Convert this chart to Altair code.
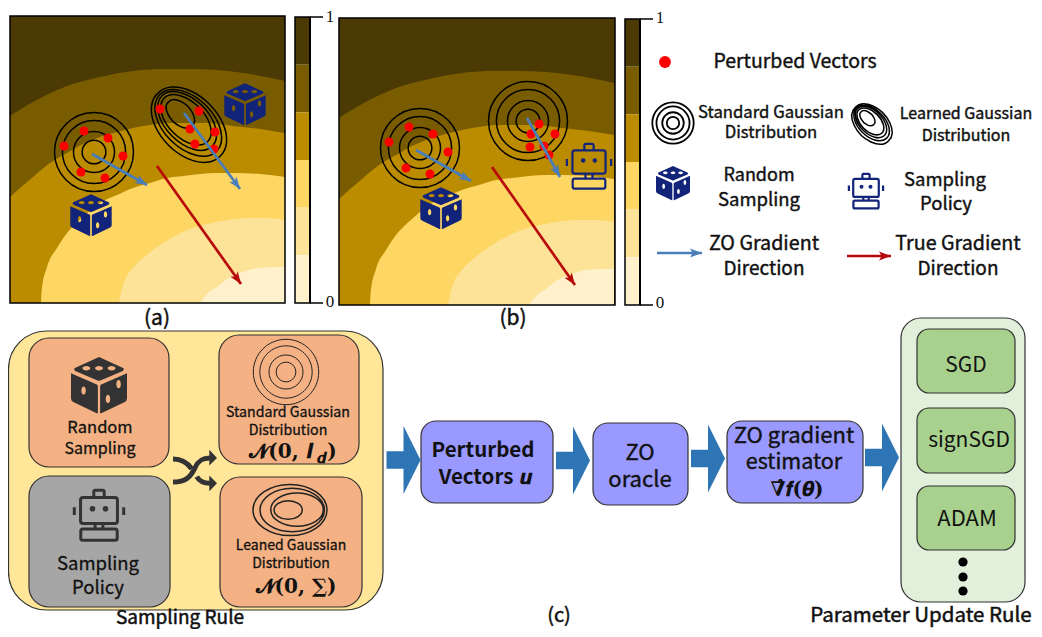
import math
import altair as alt
import pandas as pd

# ---------- palette ----------
BAND_COLORS = ["#4c3a05", "#7a5c00", "#bb8c00", "#fdd663", "#fde398", "#fff1cc"]
BLUE, RED, NAVY, INK = "#4a7ebb", "#b80a0a", "#12237a", "#333333"

# ---------- contour boundaries ----------
B1 = [(10, 116), (33, 102), (67, 86), (100, 77), (133, 71), (167, 69), (190, 69), (217, 70), (250, 74), (285, 81)]
B2 = [(10, 197), (20, 188), (33, 177), (50, 163), (67, 153), (83, 144), (100, 137), (117, 132), (133, 128), (150, 125),
      (167, 123), (187, 123), (207, 123), (233, 126), (260, 129), (285, 133)]
B3 = [(41, 303), (41.7, 290), (47, 267), (57, 248), (67, 233), (83, 217), (100, 203), (117, 195), (133, 188), (150, 183),
      (167, 178), (183, 176), (200, 174), (217, 173), (233, 173), (260, 174), (285, 177)]
B4 = [(119, 303), (121, 293), (125, 280), (133, 268), (143, 258), (157, 247), (173, 237), (190, 229), (207, 224), (227, 220),
      (247, 218), (267, 218), (285, 220)]
B5 = [(200, 303), (208, 293), (217, 287), (227, 279), (240, 273), (257, 268), (273, 267), (285, 267)]
BOUNDARIES = [B1, B2, B3, B4, B5]

PANEL_A = (10, 285, 16, 303)
PANEL_B = (339, 615, 18, 305)
OFFSET_B = (329, 2)
CBAR_A = (295, 309, 17, 303)
CBAR_B = (625, 639, 19, 305)

# ---------- points ----------
DOTS_AX = [64, 84, 108, 123, 105, 81, 160, 199, 190, 215, 195, 214]
DOTS_AY = [146, 131, 138, 156, 178, 172, 109, 111, 129, 132, 144, 149]
DOTS_BX = [389, 409, 433, 448, 430, 406, 539, 531, 555, 544, 530, 549]
DOTS_BY = [142, 127, 134, 152, 174, 168, 124, 134, 134, 146, 147, 155]
LEGEND_DOT_X = [665]
LEGEND_DOT_Y = [62]

# arrows: x0, y0, x1, y1
BLUE_ARROWS = [(92, 154, 147, 185), (184, 113, 240, 189), (416, 150, 471, 181),
               (527, 118, 560, 177), (657, 253, 702, 253)]
RED_ARROWS = [(157, 166, 241, 284), (492, 167, 575, 285), (847, 256, 891, 256)]

# block arrows
BLOCK_X = [403.5, 573, 708, 882]
BLOCK_Y = [460, 460.5, 458.5, 457.5]

# boxes: x0, x1, y0, y1, fill
BIG = [(8.5, 383, 331, 610, "#ffe699")]
GROUP = [(901, 1025, 318, 602, "#e2efda")]
ORANGE_GREY = [(29, 169, 338, 467, "#f4b183"), (29, 170, 476, 607, "#a6a6a6"),
               (219, 359, 335, 464, "#f4b183"), (220, 362, 477, 607, "#f4b183")]
PURPLE = [(421, 553, 421, 503, "#9999ff"), (593, 688, 423, 505, "#9999ff"),
          (727, 863, 421, 503, "#9999ff")]
GREEN = [(917, 1015, 329, 393, "#a9d18e"), (917, 1015, 408, 473, "#a9d18e"),
         (917, 1015, 486, 550, "#a9d18e")]
ELLIPSIS_X = [963, 963, 963]
ELLIPSIS_Y = [562, 577, 591]

# ---------- glyph shapes (unit square, -1..1) ----------
def ell(cx, cy, a, b, rot=0, sweep=1):
    rad = math.radians(rot)
    dx, dy = a * math.cos(rad), a * math.sin(rad)
    return (f"M{cx - dx:.3f},{cy - dy:.3f}"
            f"A{a:.3f},{b:.3f} {rot} 1 {sweep} {cx + dx:.3f},{cy + dy:.3f}"
            f"A{a:.3f},{b:.3f} {rot} 1 {sweep} {cx - dx:.3f},{cy - dy:.3f}Z")

def rr(x0, y0, x1, y1, r):
    return (f"M{x0 + r},{y0}L{x1 - r},{y0}Q{x1},{y0} {x1},{y0 + r}L{x1},{y1 - r}"
            f"Q{x1},{y1} {x1 - r},{y1}L{x0 + r},{y1}Q{x0},{y1} {x0},{y1 - r}"
            f"L{x0},{y0 + r}Q{x0},{y0} {x0 + r},{y0}Z")

RINGS = " ".join(ell(0, 0, r, r) for r in [1, 0.8, 0.52, 0.3])
TILTED = " ".join(ell(cx, cy, a, b, 45) for cx, cy, a, b in [
    (0, 0, 1.18, 0.75), (-0.02, -0.05, 1.07, 0.66), (-0.05, -0.10, 0.95, 0.57),
    (-0.08, -0.13, 0.82, 0.48), (-0.23, -0.29, 0.45, 0.27)])
FLAT = " ".join(ell(cx, cy, a, b) for cx, cy, a, b in [
    (0, 0, 1, 0.69), (0.06, 0, 0.87, 0.59), (0.19, -0.01, 0.71, 0.45), (-0.05, 0, 0.38, 0.25)])

DICE = ("M0,-1L.88,-.6Q.9,-.55 .85,-.5L.05,-.16Q0,-.14 -.05,-.16L-.85,-.5Q-.9,-.55 -.88,-.6Z "
        "M-1,-.42L-.08,-.02Q-.04,0 -.04,.05L-.04,1Q-.04,1.02 -.1,1L-.9,.62Q-1,.57 -1,.48Z "
        "M1,-.42L1,.48Q1,.57 .9,.62L.1,1Q.04,1.02 .04,1L.04,.05Q.04,0 .08,-.02Z "
        + " ".join(ell(x, y, a, b, 0, 0) for x, y, a, b in [
            (-.45, -.6, .14, .08), (0, -.6, .14, .08), (.45, -.6, .14, .08),
            (-.55, .2, .08, .15), (.7, -.03, .08, .15), (.32, .5, .08, .15)]))

ROBOT = " ".join([
    rr(-.71, -.67, .71, .33, .1), rr(-.2, -.95, .2, -.67, .06), rr(-.7, .54, .7, .97, .08),
    "M-.95,-.3L-.95,0", "M.95,-.3L.95,0", "M-.15,.33L-.15,.54", "M.15,.33L.15,.54",
    ell(-.25, -.24, .05, .05), ell(.25, -.24, .05, .05)])

SHUFFLE_LINES = ("M-1,-.5C-.6,-.5 -.35,-.35 -.15,-.05 M.08,.3C.2,.52 .4,.6 .68,.6 "
                 "M-1,.55C-.4,.55 -.2,.3 0,-.1C.15,-.45 .35,-.55 .68,-.55")
SHUFFLE_HEADS = "M.65,-.92L1,-.55L.65,-.2Z M.65,.25L1,.6L.65,.97Z"
BLOCK = "M-.5,-.26L0,-.26L0,-1L.5,0L0,1L0,.26L-.5,.26Z"
HEAD = "M0,-1L.75,1L0,.55L-.75,1Z"

# ---------- text ----------
SERIF_NUM = [("1", 330, 17, 17), ("0", 330, 302, 17), ("1", 660, 18, 17), ("0", 660, 303, 17)]
CAPTIONS = [("(a)", 157, 319, 21), ("(b)", 513, 319, 21), ("(c)", 559, 616, 20),
            ("Parameter Update Rule", 921, 616, 20.5)]
BOTTOM_CAPTION = [("Sampling Rule", 180, 618, 19)]
LEGEND_TEXT = [("Perturbed Vectors", 795, 62, 19.5), ("Standard Gaussian", 771, 113, 16.7),
               ("Distribution", 771, 133, 16.7), ("Learned Gaussian", 966, 114, 16),
               ("Distribution", 966, 136, 16), ("Random", 759, 176, 18), ("Sampling", 759, 200, 18.5),
               ("Sampling", 945, 180, 18.5), ("Policy", 946, 204, 18.5),
               ("ZO Gradient", 764, 244, 19.7), ("Direction", 764, 269, 19),
               ("True Gradient", 958, 244, 19.7), ("Direction", 958, 269, 19)]
BOX_TEXT = [("Random", 100, 428, 16.5), ("Sampling", 100, 449, 16),
            ("Sampling", 98, 564, 18.5), ("Policy", 98, 588, 18.5),
            ("Standard Gaussian", 288, 413, 14.2), ("Distribution", 288, 431, 14.2),
            ("Leaned Gaussian", 291, 546, 14), ("Distribution", 291, 564, 14)]
FLOW_BOLD = [("Perturbed", 483, 451, 20.5), ("Vectors", 476, 478, 20.5)]
FLOW_TEXT = [("ZO", 640, 453, 22), ("oracle", 640, 480, 22),
             ("ZO gradient", 794, 436, 22), ("estimator", 794, 463, 21.5)]
OPT_TEXT = [("SGD", 966, 366, 21), ("signSGD", 969, 441, 21), ("ADAM", 967, 519, 22)]
MATH_TEXT = [("\U0001D4DD(\U0001D7CE,", 274, 452, 20), ("\U0001D470", 310, 452, 20), (")", 332, 452, 20),
             ("\U0001D4DD(\U0001D7CE, \u2211)", 296, 587, 20),
             ("\u2207\u0302\U0001D487(\U0001D73D)", 797, 490, 20), ("\U0001D496", 526, 478, 20)]
MATH_SUB = [("\U0001D485", 321, 458, 15)]

# ---------- helpers ----------
xs = alt.Scale(domain=[8, 1034], nice=False, zero=False)
ys = alt.Scale(domain=[8, 629], nice=False, zero=False, reverse=True)
X = lambda f="x": alt.X(f"{f}:Q", scale=xs, axis=None)
Y = lambda f="y": alt.Y(f"{f}:Q", scale=ys, axis=None)

def rects(rows, radius=0, stroke="#333333", sw=1.2):
    df = pd.DataFrame(rows, columns=["x", "x2", "y", "y2", "fill"])
    return alt.Chart(df).mark_rect(cornerRadius=radius, stroke=stroke, strokeWidth=sw).encode(
        x=X(), x2="x2:Q", y=Y(), y2="y2:Q", fill=alt.Fill("fill:N", scale=None))

def outline(x0, x1, y0, y1, sw=1.5):
    df = pd.DataFrame({"x": [x0], "x2": [x1], "y": [y0], "y2": [y1]})
    return alt.Chart(df).mark_rect(fill="transparent", stroke="black", strokeWidth=sw).encode(
        x=X(), x2="x2:Q", y=Y(), y2="y2:Q")

def rules(rows, color="black", sw=1.5):
    df = pd.DataFrame(rows, columns=["x", "y", "x2", "y2"])
    return alt.Chart(df).mark_rule(color=color, strokeWidth=sw).encode(
        x=X(), y=Y(), x2="x2:Q", y2="y2:Q")

def glyph(path, px, py, radius, color, filled=True, sw=1.5):
    df = pd.DataFrame({"x": px, "y": py})
    kw = dict(fill=color) if filled else dict(fill="transparent", stroke=color, strokeWidth=sw)
    return alt.Chart(df).mark_point(shape=path, size=(2 * radius) ** 2, opacity=1, filled=filled, **kw).encode(x=X(), y=Y())

def dots(px, py, size, color):
    df = pd.DataFrame({"x": px, "y": py})
    return alt.Chart(df).mark_circle(size=size, color=color, opacity=1).encode(x=X(), y=Y())

def texts(rows, font="Noto Sans CJK SC", weight=400, color="#111111", style="normal", sw=0.0):
    df = pd.DataFrame(rows, columns=["t", "x", "y", "s"])
    return alt.Chart(df).mark_text(font=font, fontWeight=weight, fontStyle=style, color=color,
                                   stroke=color, strokeWidth=sw,
                                   align="center", baseline="middle").encode(
        x=X(), y=Y(), text="t:N", size=alt.Size("s:Q", scale=None))

def arrows(rows, color, head):
    layer = [rules([(a, b, c, d) for a, b, c, d in rows], color, 2.7)]
    hd = []
    for a, b, c, d in rows:
        L = math.hypot(c - a, d - b)
        hd.append({"x": c - (c - a) / L * head, "y": d - (d - b) / L * head,
                   "a": (math.degrees(math.atan2(c - a, -(d - b))) + 360) % 360})
    layer.append(alt.Chart(pd.DataFrame(hd)).mark_point(
        shape=HEAD, size=(2 * head) ** 2, fill=color, filled=True, opacity=1
    ).encode(x=X(), y=Y(), angle=alt.Angle("a:Q", scale=None)))
    return layer

def panel(box, dx, dy):
    x0, x1, y0, y1 = box
    layer = [rects([(x0, x1, y0, y1, BAND_COLORS[0])], stroke="transparent", sw=0)]
    for pts, col in zip(BOUNDARIES, BAND_COLORS[1:]):
        df = pd.DataFrame({"x": [p[0] + dx for p in pts], "y": [p[1] + dy for p in pts]})
        df["y2"] = y1
        layer.append(alt.Chart(df).mark_area(color=col, interpolate="monotone", opacity=1).encode(
            x=X(), y=Y(), y2="y2:Q"))
    layer.append(outline(x0, x1, y0, y1))
    return layer

def cbar(box):
    x0, x1, y0, y1 = box
    h = (y1 - y0) / 6
    rows = [(x0, x1, y0 + i * h, y0 + (i + 1) * h, c) for i, c in enumerate(BAND_COLORS)]
    return [rects(rows, stroke="transparent", sw=0), outline(x0, x1 + 1, y0, y1, 1.5),
            rules([(x1 + 1, y0, x1 + 14, y0), (x1 + 1, y1, x1 + 14, y1)], sw=1.5),
            rules([(x1 + 1, y0, x1 + 1, y1)], sw=2)]

# ---------- assemble ----------
L = []
L += panel(PANEL_A, 0, 0)
L += panel(PANEL_B, OFFSET_B[0], OFFSET_B[1])
L += cbar(CBAR_A) + cbar(CBAR_B)

L += [glyph(RINGS, [94, 420, 528], [152, 148, 121], 39.5, "black", False, 1.5)]
L += [glyph(TILTED, [189], [124.7], 37.5, "black", False, 1.5)]
L += [glyph(RINGS, [673], [123], 20.7, "black", False, 1.8)]
L += [glyph(TILTED, [872], [124], 20, "black", False, 1.5)]

L += [dots(DOTS_AX + DOTS_BX, DOTS_AY + DOTS_BY, 80, "#fe0000")]
L += [dots(LEGEND_DOT_X, LEGEND_DOT_Y, 140, "#fe0000")]
L += arrows(BLUE_ARROWS, BLUE, 6)
L += arrows(RED_ARROWS, RED, 6)

L += [glyph(DICE, [245, 91, 441], [104, 215, 208], 20.7, NAVY)]
L += [glyph(DICE, [673], [183], 17, NAVY)]
L += [glyph(ROBOT, [589], [166], 23.3, NAVY, False, 2.2)]
L += [glyph(ROBOT, [866], [191], 18, NAVY, False, 2.2)]

L += [rects(BIG, 38)]
L += [rects(ORANGE_GREY, 20)]
L += [glyph(DICE, [99], [385], 28, INK)]
L += [glyph(ROBOT, [99], [515], 26, INK, False, 3)]
L += [glyph(RINGS, [286], [372], 32.7, "#222222", False, 1)]
L += [glyph(FLAT, [290], [510], 37, "#222222", False, 1.5)]
L += [glyph(SHUFFLE_LINES, [195], [470], 22, INK, False, 5)]
L += [glyph(SHUFFLE_HEADS, [195], [470], 22, INK)]
L += [rects(GROUP, 20)]
L += [rects(PURPLE, 15)]
L += [rects(GREEN, 12)]
L += [glyph(BLOCK, BLOCK_X, BLOCK_Y, 34, "#2e75b6")]
L += [dots(ELLIPSIS_X, ELLIPSIS_Y, 85, "black")]

L += [texts(SERIF_NUM, font="Liberation Serif")]
L += [texts(CAPTIONS, sw=0.5)]
L += [texts(BOTTOM_CAPTION, sw=0.5)]
L += [texts(LEGEND_TEXT, sw=0.4)]
L += [texts(BOX_TEXT, sw=0.3)]
L += [texts(FLOW_BOLD, weight=700)]
L += [texts(FLOW_TEXT, sw=0.4)]
L += [texts(OPT_TEXT)]
L += [texts(MATH_TEXT, font="DejaVu Serif", weight=700)]
L += [texts(MATH_SUB, font="DejaVu Serif", weight=700)]

chart = alt.layer(*L).properties(width=1026, height=621, padding=0,
                                 autosize=alt.AutoSizeParams(type="none")).configure_view(stroke=None)
chart.save("out.html", embed_options={"renderer": "svg", "actions": False})
